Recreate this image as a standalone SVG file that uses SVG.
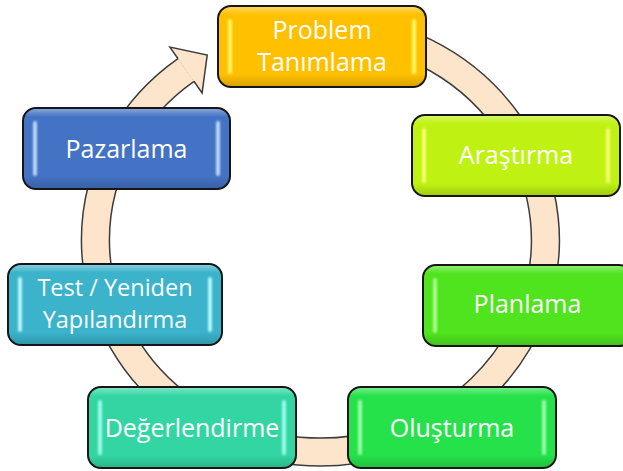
<svg xmlns="http://www.w3.org/2000/svg" width="623" height="471" viewBox="0 0 623 471">
<style>
.box{stroke:#161616;stroke-width:2}
.gl{fill:url(#gloss)}
.lbl{font-family:"Open Sans","Liberation Sans",sans-serif;font-size:25px;fill:#ffffff;text-anchor:middle}
.sm{font-size:23.5px}
.strip{filter:url(#soft);opacity:0.9}
</style>
<defs>
<linearGradient id="gloss" x1="0" y1="0" x2="0" y2="1">
<stop offset="0" stop-color="#ffffff" stop-opacity="0.35"/>
<stop offset="0.1" stop-color="#ffffff" stop-opacity="0"/>
<stop offset="0.85" stop-color="#000000" stop-opacity="0"/>
<stop offset="1" stop-color="#000000" stop-opacity="0.15"/>
</linearGradient>
<filter id="soft" x="-100%" y="-10%" width="300%" height="120%">
<feGaussianBlur stdDeviation="0.9"/>
</filter>
</defs>
<g id="connectors">
<path d="M 330 28.2 A 225 212 0 1 1 186 70" fill="none" stroke="#3c3c3c" stroke-width="29.5"/>
<path d="M 330 28.2 A 225 212 0 1 1 186 70" fill="none" stroke="#FDE5CB" stroke-width="26.5"/>
<path d="M 178.1 58.8 L 169.9 47.1 L 207.2 55 L 202.1 92.9 L 193.9 81.2" fill="#FDE5CB" stroke="#3c3c3c" stroke-width="1.5" stroke-linejoin="miter"/>
</g>
<g id="problem">
<rect class="box" x="218" y="6" width="208" height="81" rx="13" fill="#FFC000"/>
<rect class="gl" x="219" y="7" width="206" height="79" rx="12"/>
<rect class="strip" x="228" y="19" width="4" height="55" rx="2" fill="#FFFF70"/>
<rect class="strip" x="412" y="19" width="4" height="55" rx="2" fill="#FFFF70"/>
<text class="lbl" x="322" y="39">Problem</text>
<text class="lbl" x="322" y="71">Tanımlama</text>
</g>
<g id="arastirma">
<rect class="box" x="412" y="115" width="208" height="81" rx="13" fill="#BFF212"/>
<rect class="gl" x="413" y="116" width="206" height="79" rx="12"/>
<rect class="strip" x="422" y="128" width="4" height="55" rx="2" fill="#FFFF80"/>
<rect class="strip" x="606" y="128" width="4" height="55" rx="2" fill="#FFFF80"/>
<text class="lbl" x="516" y="164">Araştırma</text>
</g>
<g id="planlama">
<rect class="box" x="423" y="265" width="209" height="81" rx="13" fill="#4FE41E"/>
<rect class="gl" x="424" y="266" width="207" height="79" rx="12"/>
<rect class="strip" x="433" y="278" width="4" height="55" rx="2" fill="#B8FF9A"/>
<text class="lbl" x="527.5" y="313">Planlama</text>
</g>
<g id="olusturma">
<rect class="box" x="348" y="387" width="208" height="81" rx="13" fill="#26E24A"/>
<rect class="gl" x="349" y="388" width="206" height="79" rx="12"/>
<rect class="strip" x="358" y="400" width="4" height="55" rx="2" fill="#A8FFB8"/>
<rect class="strip" x="542" y="400" width="4" height="55" rx="2" fill="#A8FFB8"/>
<text class="lbl" x="452" y="437">Oluşturma</text>
</g>
<g id="degerlendirme">
<rect class="box" x="88" y="387" width="208" height="81" rx="13" fill="#33D6A3"/>
<rect class="gl" x="89" y="388" width="206" height="79" rx="12"/>
<rect class="strip" x="98" y="400" width="4" height="55" rx="2" fill="#A8FFF4"/>
<rect class="strip" x="282" y="400" width="4" height="55" rx="2" fill="#A8FFF4"/>
<text class="lbl" x="192" y="437">Değerlendirme</text>
</g>
<g id="test">
<rect class="box" x="8" y="264" width="214" height="81" rx="13" fill="#3AB3CB"/>
<rect class="gl" x="9" y="265" width="212" height="79" rx="12"/>
<rect class="strip" x="18" y="277" width="4" height="55" rx="2" fill="#C4FFFF"/>
<rect class="strip" x="208" y="277" width="4" height="55" rx="2" fill="#C4FFFF"/>
<text class="lbl sm" x="115" y="296">Test / Yeniden</text>
<text class="lbl sm" x="115" y="328">Yapılandırma</text>
</g>
<g id="pazarlama">
<rect class="box" x="23" y="108" width="207" height="81" rx="13" fill="#4472C4"/>
<rect class="gl" x="24" y="109" width="205" height="79" rx="12"/>
<rect class="strip" x="33" y="121" width="4" height="55" rx="2" fill="#C8E4FF"/>
<rect class="strip" x="216" y="121" width="4" height="55" rx="2" fill="#C8E4FF"/>
<text class="lbl" x="126.5" y="158">Pazarlama</text>
</g>
</svg>
